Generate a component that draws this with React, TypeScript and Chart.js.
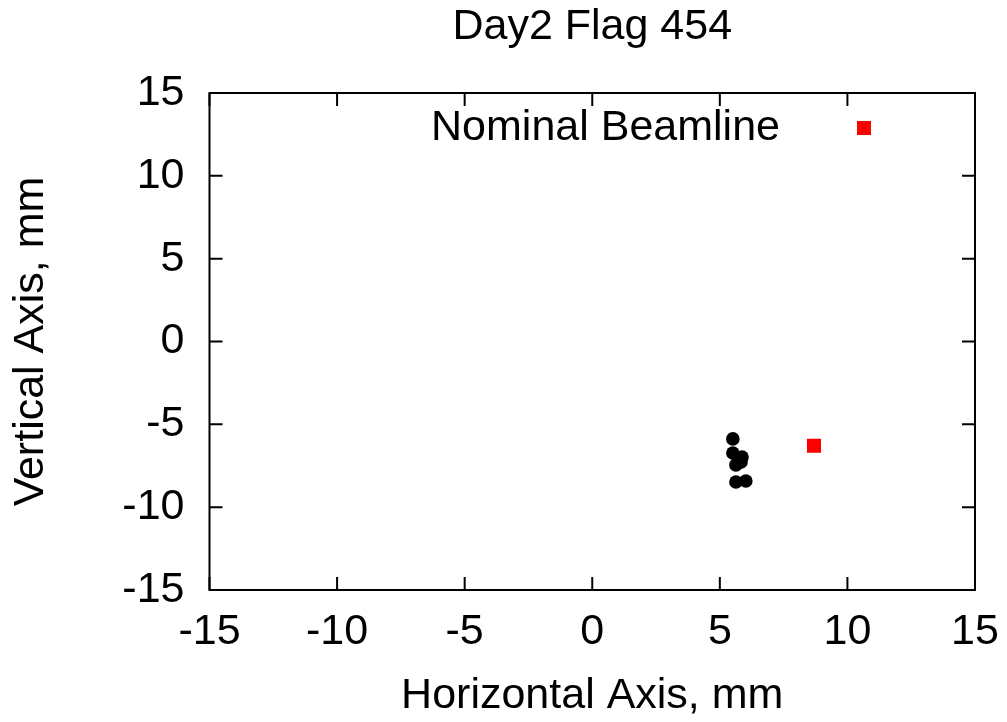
import React, { useEffect, useRef } from "react";
import { Chart, registerables } from "chart.js";

Chart.register(...registerables);

// ---- Data ----
const chartTitle = "Day2 Flag 454";
const xAxisTitle = "Horizontal Axis, mm";
const yAxisTitle = "Vertical Axis, mm";

const measuredX = [5.51, 5.51, 5.87, 5.83, 5.63, 5.63, 6.02];
const measuredY = [-5.88, -6.73, -6.97, -7.27, -7.45, -8.48, -8.42];

const nominalLabel = "Nominal Beamline";
const nominalX = [8.69];
const nominalY = [-6.3];

const axisMin = -15;
const axisMax = 15;
const tickStep = 5;

const FONT_FAMILY = '"Liberation Sans", Arial, Helvetica, sans-serif';
const FONT_SIZE = 43;

const framePlugin = {
  id: "gnuplotFrame",
  afterDraw(chart: any) {
    const { ctx, chartArea } = chart;
    const { left, right, top, bottom } = chartArea;
    const xs = chart.scales.x;
    const ys = chart.scales.y;
    const tl = 13;
    ctx.save();
    ctx.strokeStyle = "#000";
    ctx.lineWidth = 2;
    ctx.beginPath();
    xs.ticks.forEach((t: any) => {
      const px = xs.getPixelForValue(t.value);
      ctx.moveTo(px, bottom);
      ctx.lineTo(px, bottom - tl);
      ctx.moveTo(px, top);
      ctx.lineTo(px, top + tl);
    });
    ys.ticks.forEach((t: any) => {
      const py = ys.getPixelForValue(t.value);
      ctx.moveTo(left, py);
      ctx.lineTo(left + tl, py);
      ctx.moveTo(right, py);
      ctx.lineTo(right - tl, py);
    });
    ctx.stroke();
    ctx.strokeRect(left, top, right - left, bottom - top);
    ctx.restore();
  },
};

const keyPlugin = {
  id: "gnuplotKey",
  afterDatasetsDraw(chart: any) {
    const { ctx, chartArea } = chart;
    const ds = chart.data.datasets[1];
    if (!ds) return;
    const cy = chartArea.top + 35;
    const textRight = chartArea.right - 195;
    const boxCx = chartArea.right - 111;
    const side = 14;
    ctx.save();
    ctx.font = `${FONT_SIZE}px ${FONT_FAMILY}`;
    ctx.fillStyle = "#000";
    ctx.textAlign = "right";
    ctx.textBaseline = "middle";
    ctx.fillText(ds.label, textRight, cy);
    ctx.fillStyle = ds.backgroundColor;
    ctx.fillRect(boxCx - side / 2, cy - side / 2, side, side);
    ctx.restore();
  },
};

export default function App() {
  const canvasRef = useRef<HTMLCanvasElement | null>(null);

  useEffect(() => {
    if (!canvasRef.current) return;
    const font = { family: FONT_FAMILY, size: FONT_SIZE, lineHeight: 1.2, weight: "normal" as const };
    const chart = new Chart(canvasRef.current, {
      type: "scatter",
      data: {
        datasets: [
          {
            label: "measured",
            data: measuredX.map((x, i) => ({ x, y: measuredY[i] })),
            pointStyle: "circle",
            pointRadius: 6.8,
            pointHoverRadius: 6.8,
            backgroundColor: "#000000",
            borderColor: "#000000",
            borderWidth: 0,
          },
          {
            label: nominalLabel,
            data: nominalX.map((x, i) => ({ x, y: nominalY[i] })),
            pointStyle: "rect",
            pointRadius: 9.9,
            pointHoverRadius: 9.9,
            backgroundColor: "#ff0000",
            borderColor: "#ff0000",
            borderWidth: 0,
          },
        ],
      },
      options: {
        responsive: false,
        animation: false,
        events: [],
        layout: { padding: { left: 0, right: 32, top: 0, bottom: 0 } },
        plugins: {
          legend: { display: false },
          tooltip: { enabled: false },
          title: {
            display: true,
            fullSize: false,
            text: chartTitle,
            color: "#000",
            font,
            padding: { top: 1, bottom: 40.4 },
          },
        },
        scales: {
          x: {
            type: "linear",
            position: "bottom",
            min: axisMin,
            max: axisMax,
            grid: { display: false, drawTicks: false },
            border: { display: false },
            ticks: { stepSize: tickStep, color: "#000", font, padding: 16 },
            title: {
              display: true,
              text: xAxisTitle,
              color: "#000",
              font,
              padding: { top: 0, bottom: 0 },
            },
            afterFit: (s: any) => {
              s.height = 132;
              s.paddingRight = 0;
              s.paddingLeft = 0;
            },
          },
          y: {
            type: "linear",
            position: "left",
            min: axisMin,
            max: axisMax,
            grid: { display: false, drawTicks: false },
            border: { display: false },
            ticks: { stepSize: tickStep, color: "#000", font, padding: 25 },
            title: {
              display: true,
              text: yAxisTitle,
              color: "#000",
              font,
              padding: { top: 5, bottom: 0 },
            },
            afterFit: (s: any) => {
              s.width = 209.5;
              s.paddingTop = 0;
              s.paddingBottom = 0;
            },
          },
        },
      },
      plugins: [framePlugin, keyPlugin],
    });
    return () => chart.destroy();
  }, []);

  return (
    <div style={{ position: "fixed", left: 0, top: 0, width: 1007, height: 722, background: "#fff" }}>
      <canvas ref={canvasRef} width={1007} height={722} style={{ width: 1007, height: 722, display: "block" }} />
    </div>
  );
}
